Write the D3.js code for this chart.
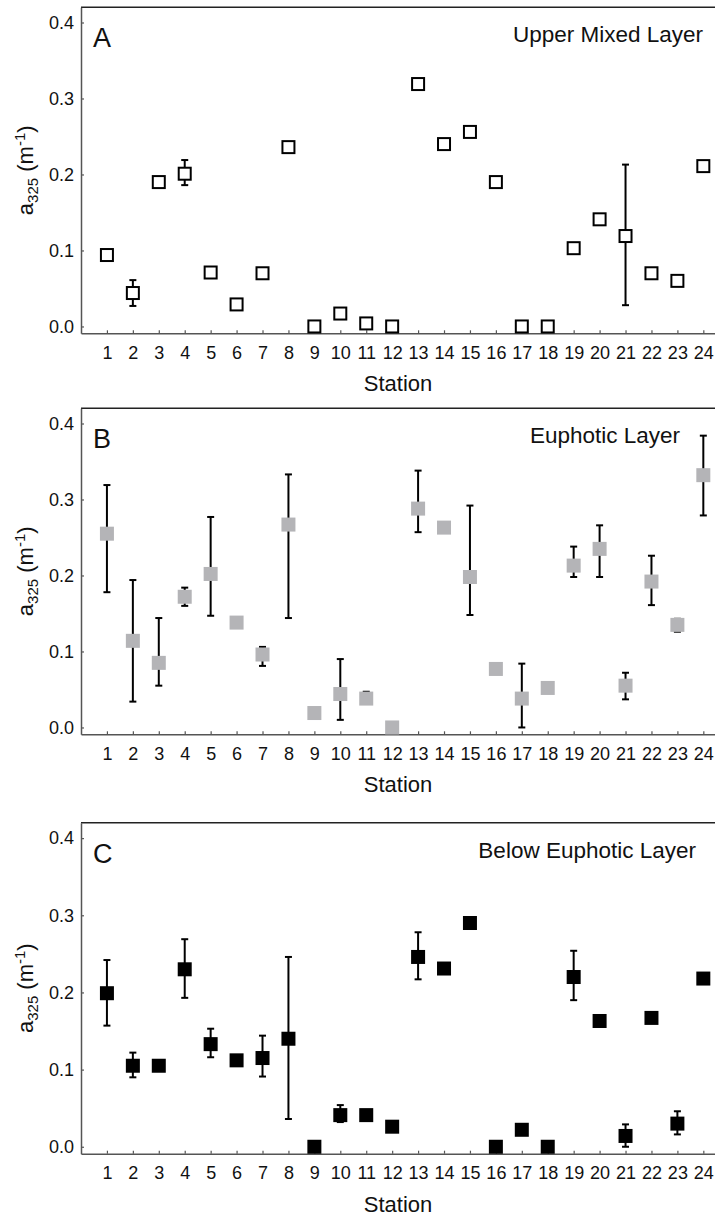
<!DOCTYPE html>
<meta charset="utf-8">
<html>
<head>
  <title>a325 by station</title>
</head>
<style>
  body { margin: 0; background: #fff; }
  svg text { font-family: "Liberation Sans", Arial, sans-serif; fill: #111; }
  .axis .domain { stroke: #555; stroke-width: 1.5; }
  .axis .tick line { stroke: #555; stroke-width: 1.2; }
  .axis .tick text { font-size: 18px; font-family: "Liberation Sans", Arial, sans-serif; fill: #111; }
</style>
<body>
  <svg width="715" height="1219"></svg>

  <script src="https://cdn.jsdelivr.net/npm/d3@7"></script>
  <script>
    var stations = d3.range(1, 25);
    var yTicks = [0, 0.1, 0.2, 0.3, 0.4];

    // Upper Mixed Layer
    var upperVal = [0.094, 0.044, 0.190, 0.201, 0.071, 0.029, 0.070, 0.236, 0.000, 0.017, 0.004, 0.000,
                    0.319, 0.240, 0.256, 0.190, 0.000, 0.000, 0.103, 0.141, 0.119, 0.070, 0.060, 0.211];
    var upperLo = [null, 0.027, null, 0.186, null, null, null, null, null, null, null, null,
                   null, null, null, null, null, null, null, null, 0.028, 0.067, 0.057, null];
    var upperHi = [null, 0.061, null, 0.219, null, null, null, null, null, null, null, null,
                   null, null, null, null, null, null, null, null, 0.213, 0.073, 0.064, null];

    // Euphotic Layer
    var euphVal = [0.255, 0.114, 0.085, 0.172, 0.202, 0.138, 0.096, 0.267, 0.019, 0.044, 0.038, 0.000,
                   0.288, 0.263, 0.198, 0.077, 0.038, 0.052, 0.213, 0.235, 0.055, 0.192, 0.135, 0.332];
    var euphLo = [0.178, 0.034, 0.055, 0.160, 0.147, null, 0.081, 0.144, null, 0.010, 0.038, null,
                  0.257, null, 0.148, null, 0.000, null, 0.198, 0.198, 0.037, 0.161, 0.126, 0.279];
    var euphHi = [0.319, 0.194, 0.144, 0.184, 0.277, null, 0.106, 0.333, null, 0.090, 0.047, null,
                  0.338, null, 0.292, null, 0.084, null, 0.238, 0.266, 0.072, 0.226, 0.143, 0.384];

    // Below Euphotic Layer
    var belowVal = [0.199, 0.105, 0.105, 0.230, 0.133, 0.112, 0.115, 0.140, 0.000, 0.041, 0.041, 0.026,
                    0.246, 0.231, 0.290, 0.000, 0.022, 0.000, 0.220, 0.163, 0.014, 0.167, 0.030, 0.218];
    var belowLo = [0.157, 0.090, null, 0.193, 0.116, null, 0.091, 0.036, null, 0.032, null, null,
                   0.217, null, null, null, null, null, 0.190, null, 0.000, null, 0.016, null];
    var belowHi = [0.242, 0.122, null, 0.269, 0.153, null, 0.144, 0.246, null, 0.054, null, null,
                   0.278, null, null, null, null, null, 0.254, null, 0.029, null, 0.046, null];

    var panels = [
      { letter: 'A', title: 'Upper Mixed Layer', titleX: 703, values: upperVal, lo: upperLo, hi: upperHi,
        fill: '#fff', stroke: '#000', top: 7.3, height: 326 },
      { letter: 'B', title: 'Euphotic Layer', titleX: 680, values: euphVal, lo: euphLo, hi: euphHi,
        fill: '#b4b4b7', stroke: 'none', top: 408.3, height: 326 },
      { letter: 'C', title: 'Below Euphotic Layer', titleX: 696, values: belowVal, lo: belowLo, hi: belowHi,
        fill: '#000', stroke: 'none', top: 822.7, height: 331 }
    ];

    var svg = d3.select('svg');
    var left = 81;
    var x = d3.scaleLinear().domain([0, 24.5]).range([left, left + 24.5 * 25.93]);

    panels.forEach(function (p) {
      var bottom = p.top + p.height;
      var y = d3.scaleLinear().domain([-0.009, 0.42]).range([bottom, p.top]);
      var g = svg.append('g');

      // top frame line
      g.append('line')
        .attr('x1', left).attr('x2', 715)
        .attr('y1', p.top).attr('y2', p.top)
        .attr('stroke', '#222').attr('stroke-width', 1.5);

      g.append('g')
        .attr('class', 'axis')
        .attr('transform', 'translate(0,' + bottom + ')')
        .call(d3.axisBottom(x).tickValues(stations).tickSize(-3).tickSizeOuter(0).tickPadding(13)
          .tickFormat(d3.format('d')));

      var yAxis = g.append('g')
        .attr('class', 'axis')
        .attr('transform', 'translate(' + left + ',0)')
        .call(d3.axisLeft(y).tickValues(yTicks).tickSize(-3).tickSizeOuter(0).tickPadding(7)
          .tickFormat(d3.format('.1f')));

      // y label
      var yl = g.append('text')
        .attr('transform', 'translate(33,' + (p.top + p.height / 2) + ') rotate(-90)')
        .attr('text-anchor', 'middle')
        .style('font-size', '22px');
      yl.append('tspan').text('a');
      yl.append('tspan').attr('dy', 5).style('font-size', '15px').text('325');
      yl.append('tspan').attr('dy', -5).text(' (m');
      yl.append('tspan').attr('dy', -8).style('font-size', '15px').text('-1');
      yl.append('tspan').attr('dy', 8).text(')');

      // x label
      g.append('text')
        .attr('x', (left + 715) / 2)
        .attr('y', bottom + 58)
        .attr('text-anchor', 'middle')
        .style('font-size', '22px')
        .text('Station');

      g.append('text')
        .attr('x', 93).attr('y', p.top + 40)
        .style('font-size', '27px')
        .text(p.letter);

      g.append('text')
        .attr('x', p.titleX).attr('y', p.top + 35)
        .attr('text-anchor', 'end')
        .style('font-size', '22.5px')
        .text(p.title);

      var rows = stations.map(function (s, i) {
        return { s: s, v: p.values[i], lo: p.lo[i], hi: p.hi[i] };
      });

      var bars = g.append('g')
        .selectAll('g')
        .data(rows.filter(function (d) { return d.lo !== null; }))
        .enter()
        .append('g')
        .attr('stroke', '#000')
        .attr('stroke-width', 2);
      bars.append('line')
        .attr('x1', d => x(d.s)).attr('x2', d => x(d.s))
        .attr('y1', d => y(d.lo)).attr('y2', d => y(d.hi));
      bars.append('line')
        .attr('x1', d => x(d.s) - 3.5).attr('x2', d => x(d.s) + 3.5)
        .attr('y1', d => y(d.lo)).attr('y2', d => y(d.lo));
      bars.append('line')
        .attr('x1', d => x(d.s) - 3.5).attr('x2', d => x(d.s) + 3.5)
        .attr('y1', d => y(d.hi)).attr('y2', d => y(d.hi));

      var size = p.stroke === 'none' ? 14 : 12;
      g.append('g')
        .selectAll('rect')
        .data(rows)
        .enter()
        .append('rect')
        .attr('x', d => x(d.s) - size / 2)
        .attr('y', d => y(d.v) - size / 2)
        .attr('width', size)
        .attr('height', size)
        .attr('fill', p.fill)
        .attr('stroke', p.stroke)
        .attr('stroke-width', 2);
    });
  </script>
</body>
</html>
